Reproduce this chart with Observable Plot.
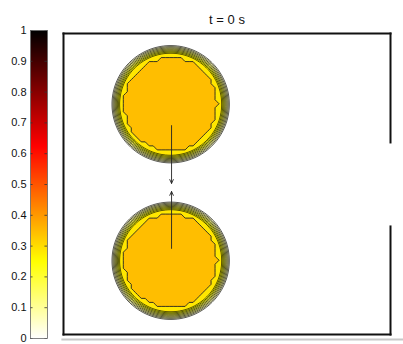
<!DOCTYPE html>
<html><head><meta charset="utf-8">
<script src="https://cdn.jsdelivr.net/npm/d3@7"></script>
<script src="https://cdn.jsdelivr.net/npm/@observablehq/plot@0.6"></script>
<style>
html,body{margin:0;padding:0;background:#fff;}
#chart{position:relative;width:403px;height:344px;overflow:hidden;}
#chart svg{position:absolute;left:0;top:0;}
</style></head><body><div id="chart"></div>
<script>
// ---- data ----
const title = "t = 0 s";
const xMax = 1.0864;                 // box width in units of its height
const dropX = [0.356, 0.356];        // droplet centres
const dropY = [0.765, 0.245];
const outerRadius = [0.199, 0.199];  // outermost contour ring
const bandRadius = [0.168, 0.168];   // inner edge of the ring bundle
const coreRadius = [0.150, 0.150];   // plateau of the droplet
const bandValue = 0.30;
const dropValue = 0.36;
const ringLevels = [0.04, 0.075, 0.11, 0.145, 0.18, 0.215, 0.25, 0.285];
const coreLevel = [0.345];
const arrowX = [0.359, 0.359];
const arrowFrom = [0.694, 0.286];
const arrowTo = [0.502, 0.475];
const wallX1 = [0, 0, 0, 1.0864, 1.0864];
const wallY1 = [1, 0, 0, 1, 0.359];
const wallX2 = [1.0864, 0, 1.0864, 1.0864, 1.0864];
const wallY2 = [1, 1, 0, 0.638, 0];
const baseX1 = [-0.007], baseX2 = [1.13], baseY = [-0.0166];
const colorTicks = [0, 0.1, 0.2, 0.3, 0.4, 0.5, 0.6, 0.7, 0.8, 0.9, 1];

// reversed "hot" colour map
const clamp = v => Math.max(0, Math.min(1, v));
const hotR = t => {
  const v = 1 - t;
  return d3.rgb(255 * clamp(v / 0.375), 255 * clamp((v - 0.375) / 0.375), 255 * clamp((v - 0.75) / 0.25)).toString();
};
const colorScale = {type: "linear", domain: [0, 1], interpolate: hotR};

// phase field: linear through the ring bundle, slow rise to the plateau inside
const phase = (x, y) => {
  let m = 0;
  for (let i = 0; i < dropX.length; i++) {
    const d = Math.hypot(x - dropX[i], y - dropY[i]);
    let v;
    if (d >= bandRadius[i]) v = bandValue * clamp((outerRadius[i] - d) / (outerRadius[i] - bandRadius[i]));
    else v = bandValue + (dropValue - bandValue) * clamp((bandRadius[i] - d) / (bandRadius[i] - coreRadius[i]));
    m = Math.max(m, v);
  }
  return m;
};

const font = "'Liberation Sans', Arial, Helvetica, sans-serif";

const main = Plot.plot({
  width: 403, height: 344,
  marginLeft: 63, marginRight: 13, marginTop: 33, marginBottom: 10,
  x: {domain: [0, xMax], axis: null},
  y: {domain: [0, 1], axis: null},
  color: colorScale,
  style: {fontFamily: font, background: "transparent", overflow: "visible"},
  marks: [
    Plot.contour({x1: 0, x2: xMax, y1: 0, y2: 1, value: phase, thresholds: ringLevels,
      fill: "value", stroke: "#000", strokeWidth: 0.65, pixelSize: 1}),
    Plot.contour({x1: 0, x2: xMax, y1: 0, y2: 1, value: phase, thresholds: coreLevel,
      fill: "value", stroke: "#222", strokeWidth: 0.9, pixelSize: 4, smooth: false}),
    Plot.arrow(arrowX, {x1: arrowX, y1: arrowFrom, x2: arrowX, y2: arrowTo,
      stroke: "#222", strokeWidth: 0.9, headLength: 7, headAngle: 50}),
    Plot.link(wallX1, {x1: wallX1, y1: wallY1, x2: wallX2, y2: wallY2,
      stroke: "#111", strokeWidth: 2, strokeLinecap: "square"}),
    Plot.link(baseY, {x1: baseX1, x2: baseX2, y1: baseY, y2: baseY, stroke: "#c8c8c8", strokeWidth: 2}),
    Plot.text([title], {text: d => d, frameAnchor: "top", dy: -19, fontSize: 13, fill: "#111"})
  ]
});

const bar = Plot.plot({
  width: 50, height: 344,
  marginLeft: 30, marginRight: 3, marginTop: 30, marginBottom: 6,
  x: {domain: [0, 1], axis: null},
  y: {domain: [0, 1], ticks: colorTicks, tickSize: 0, tickPadding: 4, tickFormat: d => String(d), label: null},
  color: colorScale,
  style: {fontFamily: font, fontSize: "11px", background: "transparent", color: "#111"},
  marks: [
    Plot.raster({x1: 0, x2: 1, y1: 0, y2: 1, fill: (x, y) => y, pixelSize: 1}),
    Plot.ruleY(colorTicks, {x1: 0, x2: 0.15, stroke: "#333", strokeWidth: 0.8}),
    Plot.ruleY(colorTicks, {x1: 0.85, x2: 1, stroke: "#333", strokeWidth: 0.8}),
    Plot.frame({stroke: "#666", strokeWidth: 0.8})
  ]
});

const el = document.getElementById("chart");
el.appendChild(main);
el.appendChild(bar);
</script></body></html>
